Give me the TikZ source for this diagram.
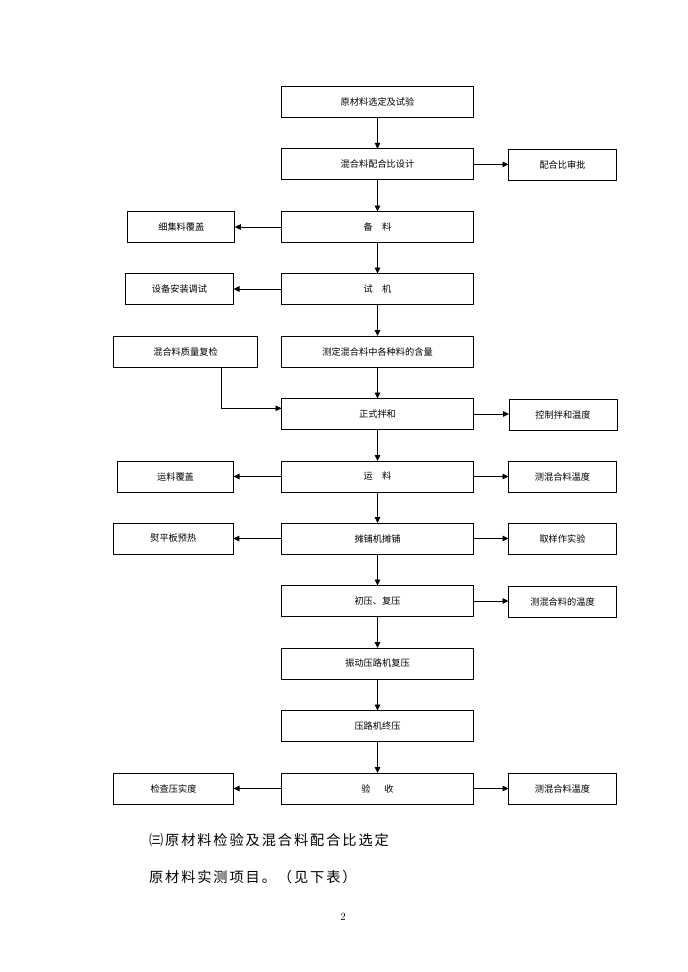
\documentclass[tikz,border=0pt]{standalone}
\usepackage{fontspec}
\usepackage{tikz}
\usetikzlibrary{arrows.meta}
\newfontfamily\cjk{Noto Sans CJK SC}
\newfontfamily\cjkwide[LetterSpace=13.5]{Noto Sans CJK SC}
\def\boxtext{\cjk\fontsize{9.2pt}{11pt}\selectfont}
\def\bigtext{\cjkwide\fontsize{14.2pt}{17pt}\selectfont}

\begin{document}
\begin{tikzpicture}[x=1pt, y=-1pt,
		stepbox/.style={draw, line width=0.9pt, inner sep=0pt, outer sep=0pt, minimum height=31pt, font=\boxtext},
		mainbox/.style={stepbox, minimum width=192pt},
		sidebox/.style={stepbox, minimum width=#1},
		arr/.style={line width=0.9pt, -{Triangle[length=6pt, width=5.5pt]}}]
		%%%%% START %%%%%
		
		\useasboundingbox[fill=white] (0, 0) rectangle (688, 972);
		
		\node[mainbox] (m1) at (377.5, 101.7) {原材料选定及试验};
		\node[mainbox] (m2) at (377.5, 164.4) {混合料配合比设计};
		\node[mainbox] (m3) at (377.5, 227) {备\hspace{1em}料};
		\node[mainbox] (m4) at (377.5, 289) {试\hspace{1em}机};
		\node[mainbox] (m5) at (377.5, 351.5) {测定混合料中各种料的含量};
		\node[mainbox] (m6) at (377.5, 414) {正式拌和};
		\node[mainbox] (m7) at (377.5, 476.5) {运\hspace{1em}料};
		\node[mainbox] (m8) at (377.5, 538.5) {摊铺机摊铺};
		\node[mainbox] (m9) at (377.5, 601) {初压、复压};
		\node[mainbox] (m10) at (377.5, 663.5) {振动压路机复压};
		\node[mainbox] (m11) at (377.5, 726) {压路机终压};
		\node[mainbox] (m12) at (377.5, 788.5) {验\hspace{1.5em}收};
		
		\foreach \a/\b in {m1/m2, m2/m3, m3/m4, m4/m5, m5/m6, m6/m7, m7/m8, m8/m9, m9/m10, m10/m11, m11/m12}
			\draw[arr] (\a) -- (\b);
		
		\node[sidebox=108pt] (r2) at (562.5, 165.4) {配合比审批};
		\node[sidebox=108pt] (r6) at (563, 415) {控制拌和温度};
		\node[sidebox=108pt] (r7) at (562.5, 477) {测混合料温度};
		\node[sidebox=108pt] (r8) at (562.5, 539) {取样作实验};
		\node[sidebox=108pt] (r9) at (562.5, 601.5) {测混合料的温度};
		\node[sidebox=108pt] (r12) at (562.5, 789) {测混合料温度};
		
		\foreach \a/\b in {m2/r2, m6/r6, m7/r7, m8/r8, m9/r9, m12/r12}
			\draw[arr] (\a.east) -- (\a.east -| \b.west);
		
		\node[sidebox=107pt] (l3) at (181.3, 227) {细集料覆盖};
		\node[sidebox=108pt] (l4) at (179.5, 289) {设备安装调试};
		\node[sidebox=144pt] (l5) at (185.5, 351.5) {混合料质量复检};
		\node[sidebox=116pt] (l7) at (175.5, 477) {运料覆盖};
		\node[sidebox=120pt] (l8) at (173.3, 538.5) {熨平板预热};
		\node[sidebox=120pt] (l12) at (173.5, 788.5) {检查压实度};
		
		\foreach \a/\b in {m3/l3, m4/l4, m7/l7, m8/l8, m12/l12}
			\draw[arr] (\a.west) -- (\a.west -| \b.east);
		
		\coordinate (k) at (221.7, 408.3);
		\draw[arr] (l5.south -| k) |- (m6.west |- k);
		
		\node[anchor=west, font=\bigtext] (t1) at (145.5, 840) {㈢原材料检验及混合料配合比选定};
		\node[anchor=west, font=\bigtext] (t2) at (145.5, 877.5) {原材料实测项目。（见下表）};
		\node[font=\fontsize{11pt}{13pt}\selectfont] (pg) at (343, 917) {2};
		
		%%%%% END %%%%%
	\end{tikzpicture}
\end{document}
